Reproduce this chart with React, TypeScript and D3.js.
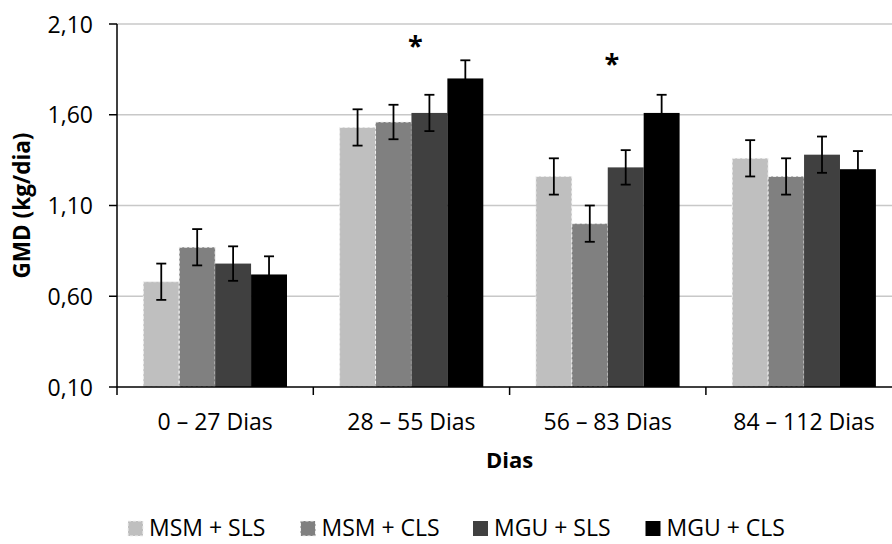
import React, { useEffect, useRef } from 'react';
import * as d3 from 'd3';

// categories and series
const categories = ['0 – 27 Dias', '28 – 55 Dias', '56 – 83 Dias', '84 – 112 Dias'];
const seriesNames = ['MSM + SLS', 'MSM + CLS', 'MGU + SLS', 'MGU + CLS'];
const seriesColors = ['#bfbfbf', '#808080', '#404040', '#000000'];

// GMD values (kg/dia), one array per series
const msmSls = [0.68, 1.53, 1.26, 1.36];
const msmCls = [0.87, 1.56, 1.0, 1.26];
const mguSls = [0.78, 1.61, 1.31, 1.38];
const mguCls = [0.72, 1.8, 1.61, 1.3];

// error bars (+/-)
const msmSlsErr = [0.1, 0.1, 0.1, 0.1];
const msmClsErr = [0.1, 0.095, 0.1, 0.1];
const mguSlsErr = [0.095, 0.1, 0.095, 0.1];
const mguClsErr = [0.1, 0.1, 0.1, 0.1];

const yTicks = [0.1, 0.6, 1.1, 1.6, 2.1];

// significance marks: category index and level
const starCats = [1, 2];
const starLevels = [1.93, 1.83];

const W = 892;
const H = 544;
const FONT = '"Open Sans", sans-serif';

const App = () => {
  const ref = useRef<SVGSVGElement>(null);

  useEffect(() => {
    const svg = d3.select(ref.current);
    svg.selectAll('*').remove();

    const values = [msmSls, msmCls, mguSls, mguCls];
    const errs = [msmSlsErr, msmClsErr, mguSlsErr, mguClsErr];
    const rows = categories.map((c, ci) => ({
      cat: c,
      bars: seriesNames.map((s, si) => ({ s, si, v: values[si][ci], e: errs[si][ci] })),
    }));

    const left = 117;
    const top = 24;
    const bottom = 387;
    const catW = 196.3;
    const right = left + catW * categories.length; // chart runs past the picture edge

    const x0 = d3.scaleBand().domain(categories).range([left, right]).padding(0);
    const gap = x0.bandwidth() * 0.134;
    const x1 = d3.scaleBand().domain(seriesNames).range([gap, x0.bandwidth() - gap]).padding(0);
    const y = d3.scaleLinear().domain([0.1, 2.1]).range([bottom, top]);

    // gridlines
    svg.append('g')
      .selectAll('line')
      .data(yTicks.slice(1))
      .enter()
      .append('line')
      .attr('x1', left)
      .attr('x2', right)
      .attr('y1', (d) => y(d))
      .attr('y2', (d) => y(d))
      .style('stroke', '#c8c8c8')
      .style('stroke-width', 1.5);

    // bars
    const groups = svg.append('g')
      .selectAll('g')
      .data(rows)
      .enter()
      .append('g')
      .attr('transform', (d) => `translate(${x0(d.cat)},0)`);

    groups.selectAll('rect')
      .data((d) => d.bars)
      .enter()
      .append('rect')
      .attr('x', (d) => x1(d.s) as number)
      .attr('width', x1.bandwidth())
      .attr('y', (d) => y(d.v))
      .attr('height', (d) => bottom - y(d.v))
      .style('fill', (d) => seriesColors[d.si])
      .style('stroke', (d) => (d.si < 2 ? '#f2f2f2' : 'none'))
      .style('stroke-width', 1)
      .style('stroke-dasharray', '3 2');

    // error bars
    const cap = 5;
    const eb = groups.selectAll('g.err')
      .data((d) => d.bars)
      .enter()
      .append('g')
      .attr('class', 'err')
      .attr('transform', (d) => `translate(${(x1(d.s) as number) + x1.bandwidth() / 2},0)`)
      .style('stroke', '#000')
      .style('stroke-width', 1.8);
    eb.append('line')
      .attr('y1', (d) => y(d.v + d.e))
      .attr('y2', (d) => y(d.v - d.e));
    eb.append('line')
      .attr('x1', -cap).attr('x2', cap)
      .attr('y1', (d) => y(d.v + d.e)).attr('y2', (d) => y(d.v + d.e));
    eb.append('line')
      .attr('x1', -cap).attr('x2', cap)
      .attr('y1', (d) => y(d.v - d.e)).attr('y2', (d) => y(d.v - d.e));

    // asterisks (sit a little right of the group centre)
    svg.append('g')
      .selectAll('text')
      .data(starCats)
      .enter()
      .append('text')
      .attr('x', (d) => (x0(categories[d]) as number) + x0.bandwidth() / 2 + 4)
      .attr('y', (d, i) => y(starLevels[i]))
      .attr('text-anchor', 'middle')
      .style('font-family', FONT)
      .style('font-weight', 700)
      .style('font-size', '27px')
      .text('*');

    // y axis
    const yAxis = svg.append('g');
    yAxis.append('line')
      .attr('x1', left).attr('x2', left)
      .attr('y1', top).attr('y2', bottom)
      .style('stroke', '#000').style('stroke-width', 1.5);
    yAxis.selectAll('line.tick')
      .data(yTicks)
      .enter()
      .append('line')
      .attr('class', 'tick')
      .attr('x1', left - 8).attr('x2', left)
      .attr('y1', (d) => y(d)).attr('y2', (d) => y(d))
      .style('stroke', '#000').style('stroke-width', 1.5);
    yAxis.selectAll('text')
      .data(yTicks)
      .enter()
      .append('text')
      .attr('x', 93)
      .attr('y', (d) => y(d) + 8.5)
      .attr('text-anchor', 'end')
      .style('font-family', FONT)
      .style('font-size', '23px')
      .style('fill', '#000')
      .text((d) => d.toFixed(2).replace('.', ','));

    // x axis
    const xAxis = svg.append('g');
    xAxis.append('line')
      .attr('x1', left).attr('x2', right)
      .attr('y1', bottom).attr('y2', bottom)
      .style('stroke', '#000').style('stroke-width', 1.5);
    xAxis.selectAll('line.tick')
      .data(d3.range(categories.length + 1))
      .enter()
      .append('line')
      .attr('class', 'tick')
      .attr('x1', (d) => left + d * x0.bandwidth())
      .attr('x2', (d) => left + d * x0.bandwidth())
      .attr('y1', bottom).attr('y2', bottom + 8)
      .style('stroke', '#000').style('stroke-width', 1.5);
    xAxis.selectAll('text')
      .data(categories)
      .enter()
      .append('text')
      .attr('x', (d) => (x0(d) as number) + x0.bandwidth() / 2)
      .attr('y', 430)
      .attr('text-anchor', 'middle')
      .style('font-family', FONT)
      .style('font-size', '23px')
      .text((d) => d);

    // axis titles
    svg.append('text')
      .attr('x', (left + right) / 2)
      .attr('y', 468)
      .attr('text-anchor', 'middle')
      .style('font-family', FONT)
      .style('font-weight', 700)
      .style('font-size', '22px')
      .text('Dias');
    svg.append('text')
      .attr('transform', `translate(30, ${(top + bottom) / 2}) rotate(-90)`)
      .attr('text-anchor', 'middle')
      .style('font-family', FONT)
      .style('font-weight', 700)
      .style('font-size', '22.5px')
      .text('GMD (kg/dia)');

    // legend
    const legend = svg.append('g')
      .selectAll('g')
      .data(seriesNames)
      .enter()
      .append('g')
      .attr('transform', (d, i) => `translate(${128 + i * 172.5}, 521)`);
    legend.append('rect')
      .attr('width', 15)
      .attr('height', 15)
      .style('fill', (d, i) => seriesColors[i])
      .style('stroke', (d, i) => (i < 2 ? '#f2f2f2' : 'none'))
      .style('stroke-dasharray', '3 2');
    legend.append('text')
      .attr('x', 21)
      .attr('y', 15)
      .style('font-family', FONT)
      .style('font-size', '23px')
      .text((d) => d);
  }, []);

  return (
    <svg
      ref={ref}
      width={W}
      height={H}
      style={{ position: 'absolute', left: 0, top: 0, background: '#fff' }}
    />
  );
};

export default App;
